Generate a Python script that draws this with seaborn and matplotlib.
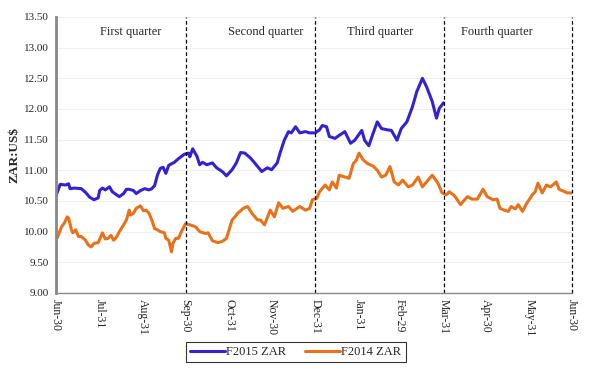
import matplotlib
matplotlib.use("Agg")
import matplotlib.pyplot as plt
import pandas as pd
import seaborn as sns

# days counted from 30 June 2015
f2015_days = [0, 3, 7, 9, 10, 13, 18, 21, 24, 27, 30, 31, 33, 35, 38, 40, 43, 45, 48, 50,
              52, 55, 57, 60, 63, 66, 68, 70, 72, 74, 76, 78, 80, 84, 87, 91, 94, 95, 97, 100,
              102, 104, 107, 111, 114, 118, 121, 125, 128, 131, 134, 138, 141, 146, 150, 153,
              157, 159, 162, 165, 167, 170, 173, 177, 180, 184, 187, 189, 192, 194, 198, 201,
              205, 209, 212, 217, 219, 222, 225, 228, 231, 235, 238, 242, 245, 249, 253, 256,
              260, 263, 267, 270, 272, 275]
f2015_zar = [10.58, 10.77, 10.76, 10.78, 10.70, 10.71, 10.70, 10.64, 10.56, 10.52, 10.55, 10.67,
             10.71, 10.68, 10.73, 10.65, 10.60, 10.57, 10.62, 10.69, 10.69, 10.67, 10.62, 10.67,
             10.70, 10.68, 10.70, 10.75, 10.92, 11.03, 11.05, 10.95, 11.08, 11.13, 11.19, 11.26,
             11.28, 11.22, 11.35, 11.23, 11.09, 11.13, 11.09, 11.12, 11.04, 10.98, 10.91, 11.01,
             11.12, 11.29, 11.28, 11.20, 11.12, 10.98, 11.04, 11.01, 11.12, 11.28, 11.49, 11.63,
             11.61, 11.71, 11.61, 11.63, 11.61, 11.61, 11.66, 11.73, 11.71, 11.55, 11.52, 11.57,
             11.63, 11.44, 11.49, 11.65, 11.49, 11.40, 11.60, 11.79, 11.68, 11.66, 11.65, 11.49,
             11.68, 11.79, 12.04, 12.28, 12.50, 12.36, 12.12, 11.85, 12.01, 12.10]

f2014_days = [0, 1, 4, 6, 8, 9, 11, 12, 14, 16, 18, 21, 23, 25, 27, 30, 33, 35, 37, 39, 41, 43,
              45, 48, 50, 52, 53, 55, 57, 60, 62, 64, 66, 68, 70, 72, 74, 77, 78, 80, 82, 83, 85,
              87, 89, 92, 95, 99, 102, 106, 108, 111, 115, 118, 121, 125, 127, 129, 133, 136,
              139, 143, 145, 148, 152, 155, 158, 161, 165, 168, 173, 177, 180, 182, 185, 187,
              191, 194, 196, 199, 201, 205, 208, 211, 213, 215, 218, 221, 225, 228, 231, 234,
              237, 240, 243, 246, 250, 253, 257, 260, 264, 267, 271, 274, 277, 279, 283, 287,
              290, 292, 295, 299, 303, 306, 310, 313, 315, 318, 321, 323, 326, 328, 331, 334,
              338, 340, 342, 345, 348, 351, 355, 357, 361, 363, 366]
f2014_zar = [9.92, 9.90, 10.08, 10.14, 10.24, 10.22, 10.03, 9.98, 10.03, 9.92, 9.92, 9.86, 9.78,
             9.75, 9.81, 9.82, 9.98, 9.88, 9.89, 9.94, 9.86, 9.91, 10.00, 10.11, 10.19, 10.35,
             10.27, 10.30, 10.38, 10.42, 10.34, 10.35, 10.30, 10.19, 10.05, 10.03, 10.00, 9.98,
             9.89, 9.86, 9.67, 9.81, 9.89, 9.89, 10.00, 10.13, 10.11, 10.08, 10.00, 9.97, 9.98,
             9.85, 9.82, 9.84, 9.89, 10.19, 10.24, 10.30, 10.38, 10.41, 10.30, 10.19, 10.19,
             10.11, 10.35, 10.24, 10.47, 10.38, 10.41, 10.33, 10.41, 10.35, 10.38, 10.52, 10.54,
             10.65, 10.76, 10.68, 10.81, 10.71, 10.92, 10.89, 10.87, 11.11, 11.16, 11.28, 11.17,
             11.11, 11.07, 11.00, 10.89, 10.92, 11.06, 10.81, 10.76, 10.84, 10.73, 10.76, 10.89,
             10.73, 10.84, 10.92, 10.79, 10.63, 10.60, 10.65, 10.58, 10.44, 10.52, 10.57, 10.53,
             10.53, 10.69, 10.57, 10.52, 10.53, 10.38, 10.35, 10.33, 10.41, 10.37, 10.44, 10.33,
             10.46, 10.60, 10.65, 10.79, 10.63, 10.76, 10.73, 10.81, 10.69, 10.65, 10.63, 10.63]

tick_days = [0, 31, 62, 92, 123, 153, 184, 215, 244, 275, 305, 336, 366]
tick_labels = ["Jun-30", "Jul-31", "Aug-31", "Sep-30", "Oct-31", "Nov-30", "Dec-31",
               "Jan-31", "Feb-29", "Mar-31", "Apr-30", "May-31", "Jun-30"]
quarter_ends = [92, 184, 275, 366]
quarter_names = ["First quarter", "Second quarter", "Third quarter", "Fourth quarter"]
quarter_mid = [53, 149, 230, 313]

df = pd.concat([
    pd.DataFrame({"day": f2015_days, "rate": f2015_zar, "series": "F2015 ZAR"}),
    pd.DataFrame({"day": f2014_days, "rate": f2014_zar, "series": "F2014 ZAR"}),
])

sns.set_style("white")
plt.rcParams["font.family"] = ["Liberation Serif", "DejaVu Serif"]

fig = plt.figure(figsize=(5.95, 3.77), dpi=100)
ax = fig.add_axes([0.094, 0.223, 0.867, 0.732])

sns.lineplot(data=df, x="day", y="rate", hue="series", ax=ax,
             palette={"F2015 ZAR": "#3322D2", "F2014 ZAR": "#E8711A"},
             linewidth=2.2, legend=False)

for d in quarter_ends:
    ax.plot([d, d], [9.0, 13.5], color="black", linestyle=(0, (3, 2)), linewidth=0.9,
            clip_on=False)
for m, name in zip(quarter_mid, quarter_names):
    ax.text(m, 13.25, name, ha="center", va="center", fontsize=9)

ax.set_xlim(0, 366)
ax.set_ylim(9.0, 13.5)
ax.set_yticks([9.0 + 0.5 * i for i in range(10)])
ax.set_yticklabels([f"{9.0 + 0.5 * i:.2f}" for i in range(10)], fontsize=8)
ax.set_xticks(tick_days)
ax.set_xticklabels(tick_labels, rotation=-90, fontsize=8.5)
ax.yaxis.grid(True, color="#eeeeee", linewidth=0.8)
ax.set_axisbelow(True)
ax.set_xlabel("")
ax.set_ylabel("ZAR:US$", fontsize=9.5, fontweight="bold", labelpad=3)
ax.tick_params(axis="both", length=3, width=0.8, color="#888888", pad=2)
ax.tick_params(axis="x", direction="inout", length=5)

for side in ["top", "right"]:
    ax.spines[side].set_visible(False)
ax.spines["left"].set_color("#888888")
ax.spines["left"].set_linewidth(2)
ax.spines["bottom"].set_color("#888888")
ax.spines["bottom"].set_linewidth(1)

handles = [plt.Line2D([], [], color="#3322D2", linewidth=2.2),
           plt.Line2D([], [], color="#E8711A", linewidth=2.2)]
leg = fig.legend(handles, ["F2015 ZAR", "F2014 ZAR"], loc="center",
                 bbox_to_anchor=(0.497, 0.066), ncol=2, fontsize=9, frameon=True,
                 fancybox=False, edgecolor="black", handlelength=2.8, handletextpad=0.1,
                 columnspacing=1.5, borderpad=0.35)
leg.get_frame().set_linewidth(0.8)

fig.savefig("out.png", dpi=100)
plt.close(fig)
